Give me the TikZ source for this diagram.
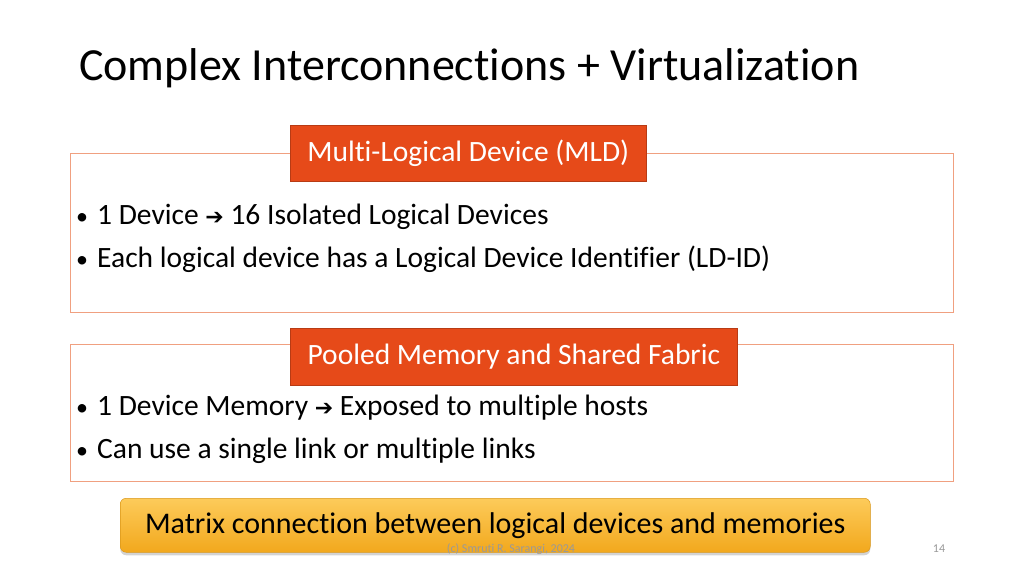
\documentclass[tikz,border=0pt]{standalone}
\usepackage{fontspec}
\setmainfont[RawFeature=-liga]{Carlito}
\newfontfamily\symf{DejaVu Sans}
\usetikzlibrary{shadows}
\definecolor{lbl}{HTML}{E64A19}
\definecolor{brd}{HTML}{F0A080}
\definecolor{goldA}{HTML}{FDCB5A}
\definecolor{goldB}{HTML}{F2A81D}
\newcommand{\arr}{{\symf\fontsize{22pt}{22pt}\selectfont ➔}}
\tikzset{
  frame/.style={draw=brd, line width=1pt},
  lab/.style={fill=lbl, draw=lbl!80!black, line width=0.6pt, text=white, font=\fontsize{29.5pt}{34pt}\selectfont, inner sep=0pt, anchor=north west},
  bul/.style={anchor=base west, font=\fontsize{29.5pt}{34pt}\selectfont, inner sep=0pt},
  dot/.style={anchor=base west, font=\fontsize{24pt}{28pt}\selectfont, inner sep=0pt},
}
\begin{document}
\begin{tikzpicture}[x=1pt,y=-1pt]
\useasboundingbox (0,0) rectangle (1024,576);
\node[anchor=base west, inner sep=0pt, font=\fontsize{46pt}{52pt}\selectfont] (title) at (79,80) {Complex Interconnections + Virtualization};
% box 1
\draw[frame] (70,153) rectangle (953,312);
\node[lab, minimum width=356pt, minimum height=56pt] (l1) at (290,125) {Multi-Logical Device (MLD)};
\node[dot] (d1) at (76,224) {•};
\node[bul] (b1) at (97,224) {1 Device \arr\ 16 Isolated Logical Devices};
\node[dot] (d2) at (76,267) {•};
\node[bul] (b2) at (97,267) {Each logical device has a Logical Device Identifier (LD-ID)};
% box 2
\draw[frame] (70,344) rectangle (953,481);
\node[lab, minimum width=447pt, minimum height=57pt] (l2) at (290,328) {Pooled Memory and Shared Fabric};
\node[dot] (d3) at (76,415) {•};
\node[bul] (b3) at (97,415) {1 Device Memory \arr\ Exposed to multiple hosts};
\node[dot] (d4) at (76,458) {•};
\node[bul] (b4) at (97,458) {Can use a single link or multiple links};
% bottom
\node[anchor=north west, minimum width=750pt, minimum height=54pt, rounded corners=6pt, top color=goldA, bottom color=goldB, draw=goldB!90!black, line width=0.5pt, drop shadow={shadow xshift=0pt, shadow yshift=-3pt, opacity=0.35}, inner sep=0pt, font=\fontsize{30pt}{34pt}\selectfont] (m) at (120,498) {Matrix connection between logical devices and memories};
\node[font=\fontsize{12pt}{14pt}\selectfont, text=gray!80, inner sep=0pt] (c) at (511,549) {(c) Smruti R. Sarangi, 2024};
\node[font=\fontsize{12pt}{14pt}\selectfont, text=gray!80, inner sep=0pt] (p) at (939,549) {14};
\end{tikzpicture}
\end{document}
